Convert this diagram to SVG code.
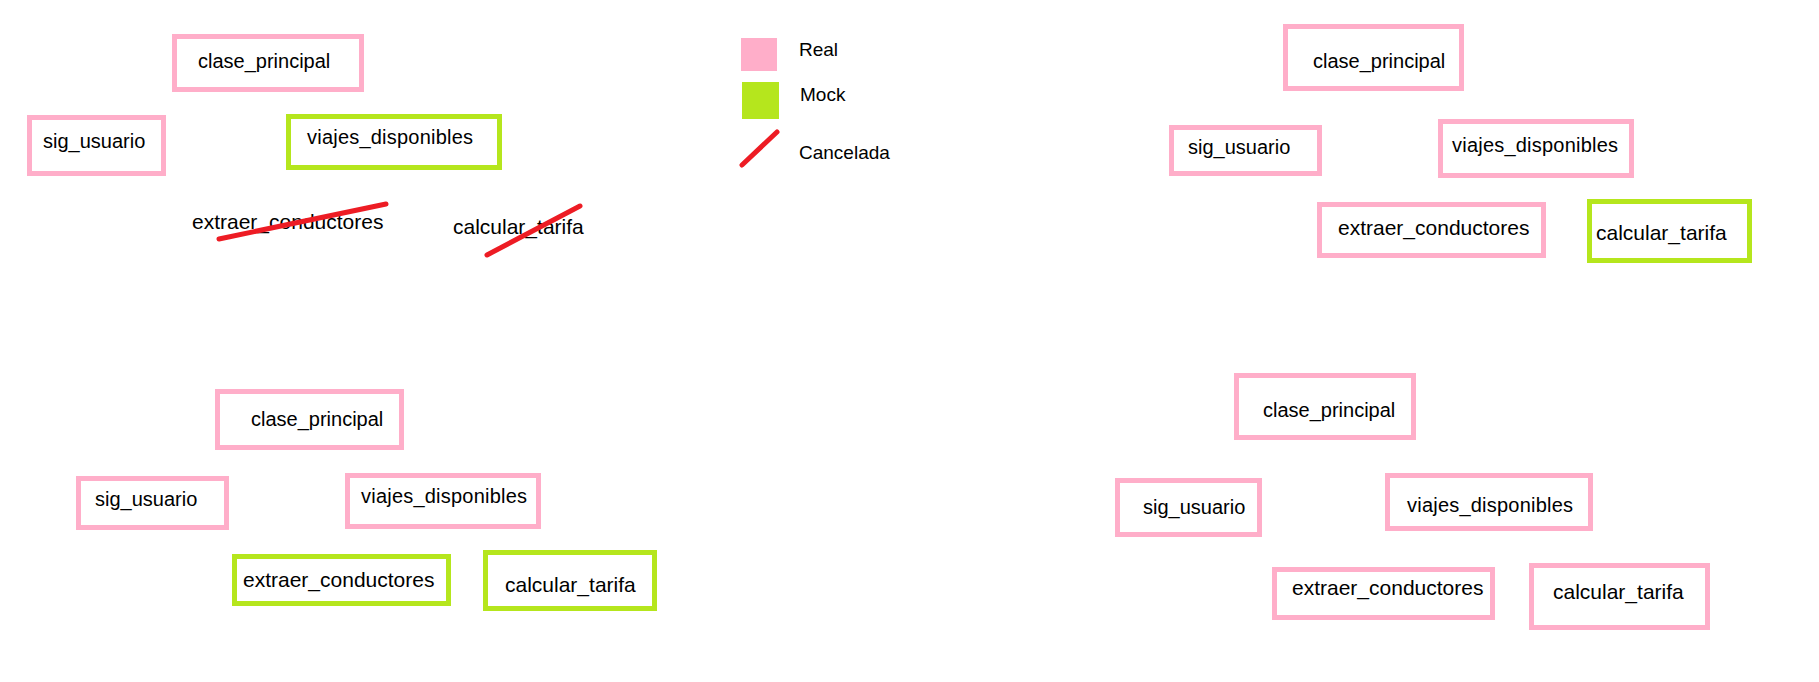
<svg xmlns="http://www.w3.org/2000/svg" width="1819" height="682" viewBox="0 0 1819 682">
<style>
.real{fill:none;stroke:#FFAEC9;stroke-width:5}
.mock{fill:none;stroke:#B5E61D;stroke-width:5}
.cancel{stroke:#ED1C24;stroke-width:5;stroke-linecap:round;fill:none}
text{font-family:"Liberation Sans",Arial,sans-serif;font-size:20px;fill:#000}
.w{font-size:21px}
.leg{font-size:19px}
</style>
<rect width="1819" height="682" fill="#fff"/>
<!-- Panel 1 -->
<g id="p1_clase_principal"><rect class="real" x="174.5" y="36.5" width="187" height="53"/><text x="198" y="68">clase_principal</text></g>
<g id="p1_sig_usuario"><rect class="real" x="29.5" y="117.5" width="134" height="56"/><text x="43" y="148">sig_usuario</text></g>
<g id="p1_viajes_disponibles"><rect class="mock" x="288.5" y="116.5" width="211" height="51"/><text x="307" y="144" textLength="166">viajes_disponibles</text></g>
<g id="p1_extraer_conductores"><text class="w" x="192" y="229">extraer_conductores</text><line class="cancel" x1="219" y1="239" x2="386" y2="204"/></g>
<g id="p1_calcular_tarifa"><text class="w" x="453" y="234">calcular_tarifa</text><line class="cancel" x1="487" y1="255" x2="580" y2="206"/></g>
<!-- Legend -->
<g id="legend_real"><rect x="741" y="38" width="36" height="33" fill="#FFAEC9"/><text class="leg" x="799" y="56">Real</text></g>
<g id="legend_mock"><rect x="742" y="82" width="37" height="37" fill="#B5E61D"/><text class="leg" x="800" y="101">Mock</text></g>
<g id="legend_cancelada"><line class="cancel" x1="742" y1="165" x2="777" y2="132"/><text class="leg" x="799" y="159">Cancelada</text></g>
<!-- Panel 2 -->
<g id="p2_clase_principal"><rect class="real" x="1285.5" y="26.5" width="176" height="62"/><text x="1313" y="68">clase_principal</text></g>
<g id="p2_sig_usuario"><rect class="real" x="1171.5" y="127.5" width="148" height="46"/><text x="1188" y="154">sig_usuario</text></g>
<g id="p2_viajes_disponibles"><rect class="real" x="1440.5" y="121.5" width="191" height="54"/><text x="1452" y="152" textLength="166">viajes_disponibles</text></g>
<g id="p2_extraer_conductores"><rect class="real" x="1319.5" y="204.5" width="224" height="51"/><text class="w" x="1338" y="235">extraer_conductores</text></g>
<g id="p2_calcular_tarifa"><rect class="mock" x="1589.5" y="201.5" width="160" height="59"/><text class="w" x="1596" y="240">calcular_tarifa</text></g>
<!-- Panel 3 -->
<g id="p3_clase_principal"><rect class="real" x="217.5" y="391.5" width="184" height="56"/><text x="251" y="426">clase_principal</text></g>
<g id="p3_sig_usuario"><rect class="real" x="78.5" y="478.5" width="148" height="49"/><text x="95" y="506">sig_usuario</text></g>
<g id="p3_viajes_disponibles"><rect class="real" x="347.5" y="475.5" width="191" height="51"/><text x="361" y="503" textLength="166">viajes_disponibles</text></g>
<g id="p3_extraer_conductores"><rect class="mock" x="234.5" y="556.5" width="214" height="47"/><text class="w" x="243" y="587">extraer_conductores</text></g>
<g id="p3_calcular_tarifa"><rect class="mock" x="485.5" y="552.5" width="169" height="56"/><text class="w" x="505" y="592">calcular_tarifa</text></g>
<!-- Panel 4 -->
<g id="p4_clase_principal"><rect class="real" x="1236.5" y="375.5" width="177" height="62"/><text x="1263" y="417">clase_principal</text></g>
<g id="p4_sig_usuario"><rect class="real" x="1117.5" y="480.5" width="142" height="54"/><text x="1143" y="514">sig_usuario</text></g>
<g id="p4_viajes_disponibles"><rect class="real" x="1387.5" y="475.5" width="203" height="53"/><text x="1407" y="512" textLength="166">viajes_disponibles</text></g>
<g id="p4_extraer_conductores"><rect class="real" x="1274.5" y="569.5" width="218" height="48"/><text class="w" x="1292" y="595">extraer_conductores</text></g>
<g id="p4_calcular_tarifa"><rect class="real" x="1531.5" y="565.5" width="176" height="62"/><text class="w" x="1553" y="599">calcular_tarifa</text></g>
<g id="connectors"/>
</svg>
